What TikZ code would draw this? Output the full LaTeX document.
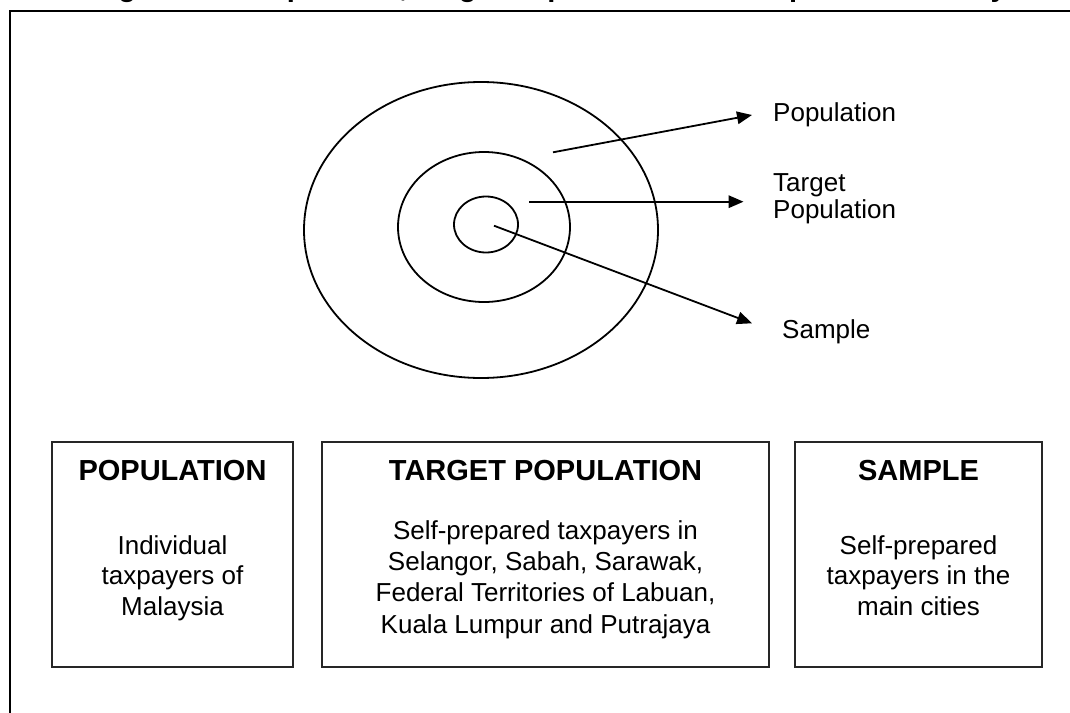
\documentclass[tikz,border=0pt]{standalone}
\usepackage{fontspec}
\setmainfont{Liberation Sans}
\usetikzlibrary{arrows.meta,shapes.geometric}

\begin{document}
\begin{tikzpicture}[x=1pt,y=-1pt,
  ring/.style={draw, ellipse, line width=1.8pt, inner sep=0pt},
  pointer/.style={line width=1.8pt, -{Triangle[length=15pt,width=12.5pt]}},
  tag/.style={font=\fontsize{26}{27.6}\selectfont, align=left, inner sep=0pt, anchor=north west},
  panel/.style={draw=black!85, line width=1.4pt, inner sep=0pt},
  head/.style={font=\bfseries\fontsize{29}{34}\selectfont, inner sep=0pt, anchor=base},
  body/.style={font=\fontsize{26}{30.5}\selectfont, align=center, inner sep=0pt, anchor=north}
]
\useasboundingbox (0,0) rectangle (1070,712);
\clip (0,0) rectangle (1070,712);

% caption above the frame (only its descenders fall on the page)
\node[head, anchor=base west] (title) at (92.3,-3.8)
  {Figure 3.1: Population, Target Population and Sample of the Study};

% outer frame
\draw[line width=2pt] (10,740) -- (10,11) -- (1100,11);

% nested rings
\node[ring, minimum width=354pt, minimum height=296pt] (outer)  at (481,230)   {};
\node[ring, minimum width=172pt, minimum height=150pt] (middle) at (484,227)   {};
\node[ring, minimum width=64pt,  minimum height=56pt]  (inner)  at (486,224.5) {};

% ring labels
\node[tag] (lpop)    at (773,102.4) {Population};
\node[tag] (ltarget) at (773,173.1) {Target\\Population};
\node[tag] (lsample) at (782,319.4) {Sample};

% pointers from the rings to their labels
\coordinate (s1) at (553,152.3);
\coordinate (e1) at (752,115);
\coordinate (s2) at (529,201.7);
\coordinate (e2) at (743.5,201.7);
\coordinate (s3) at (494,225.7);
\coordinate (e3) at (752,323.3);
\draw[pointer] (s1) -- (e1);
\draw[pointer] (s2) -- (e2);
\draw[pointer] (s3) -- (e3);

% description panels
\node[panel, minimum width=241pt, minimum height=225pt] (bpop)    at (172.5,554.5) {};
\node[panel, minimum width=447pt, minimum height=225pt] (btarget) at (545.5,554.5) {};
\node[panel, minimum width=247pt, minimum height=225pt] (bsample) at (918.5,554.5) {};

\node[head] (hpop)    at (172.5,480) {POPULATION};
\node[head] (htarget) at (545.5,480) {TARGET POPULATION};
\node[head] (hsample) at (918.5,480) {SAMPLE};

\node[body] (tpop) at (172.5,535.4) {Individual\\taxpayers of\\Malaysia};
\node[body, font=\fontsize{26}{31.2}\selectfont] (ttarget) at (545.5,520.4)
  {Self-prepared taxpayers in\\Selangor, Sabah, Sarawak,\\Federal Territories of Labuan,\\Kuala Lumpur and Putrajaya};
\node[body] (tsample) at (918.5,535.4) {Self-prepared\\taxpayers in the\\main cities};
\end{tikzpicture}
\end{document}
